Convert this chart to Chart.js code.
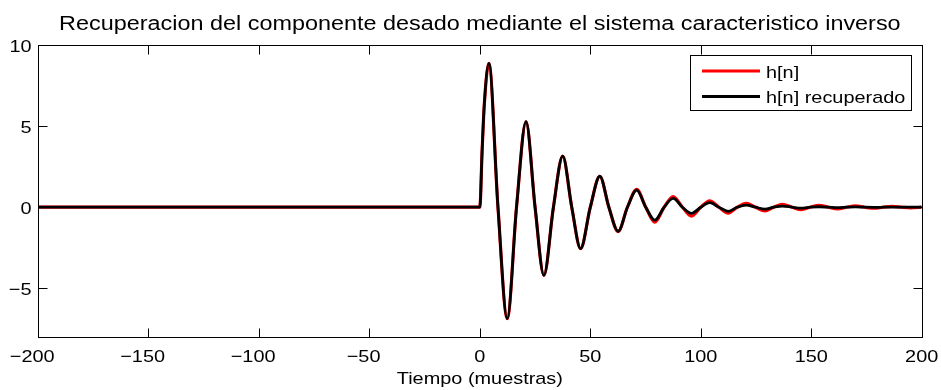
<!DOCTYPE html>
<html>
<head>
<meta charset="utf-8">
<script src="https://cdn.jsdelivr.net/npm/chart.js@4.4.0/dist/chart.umd.min.js"></script>
<style>
  body { margin: 0; background: #fff; }
  canvas { display: block; }
</style>
</head>
<body>
<canvas id="grafica" width="941" height="390"></canvas>
<script>
// muestras (extremos y cruces por cero) y amplitudes
const tiempo = [-200, 0, 1, 2, 4.1, 8.2, 12.4, 16.6, 20.9, 25, 29, 33.3, 37.5, 41.6, 45.6, 50,
  54.3, 58.4, 62.6, 66.8, 71, 75.1, 79.2, 83.4, 87.5, 91.7, 95.8, 100, 104, 108.2, 112.4,
  116.5, 120.5, 124.8, 129, 133, 137, 141.3, 145.5, 149.5, 153.5, 157.8, 162, 166, 170,
  174.2, 178.5, 182.5, 186.5, 190.8, 195, 200];
const hOriginal = [0, 0, 3.4, 6.3, 8.87, 0, -6.87, 0, 5.27, 0, -4.2, 0, 3.15, 0, -2.55, 0,
  1.91, 0, -1.5, 0, 1.1, 0, -0.92, 0, 0.66, 0, -0.55, 0, 0.4, 0, -0.36,
  0, 0.24, 0, -0.23, 0, 0.17, 0, -0.15, 0, 0.12, 0, -0.1, 0, 0.08,
  0, -0.06, 0, 0.05, 0, -0.04, 0];
const hRecuperado = [0, 0, 3.4, 6.3, 8.87, 0, -6.87, 0, 5.27, 0, -4.2, 0, 3.15, 0, -2.55, 0,
  1.91, 0, -1.48, 0, 1.05, 0, -0.8, 0, 0.54, 0, -0.38, 0, 0.28, 0, -0.25,
  0, 0.13, 0, -0.12, 0, 0.07, 0, -0.06, 0, 0.03, 0, -0.03, 0, 0.02,
  0, -0.01, 0, 0.01, 0, 0, 0];
const xTicks = [-200, -150, -100, -50, 0, 50, 100, 150, 200];
const yTicks = [-5, 0, 5, 10];

const titulo = 'Recuperacion del componente desado mediante el sistema caracteristico inverso';
const etiquetaX = 'Tiempo (muestras)';

const fuente = '"Liberation Sans", Arial, Helvetica, sans-serif';
const ESTIRA = 1.17; // la figura exportada tiene el texto algo ensanchado
const puntos = ys => tiempo.map((t, i) => ({ x: t, y: ys[i] }));
const signo = v => v < 0 ? '\u2212' + Math.abs(v) : String(v);

function texto(ctx, str, x, y, size, align) {
  ctx.save();
  ctx.font = size + 'px ' + fuente;
  ctx.fillStyle = '#000';
  ctx.textAlign = align;
  ctx.textBaseline = 'alphabetic';
  ctx.translate(x, y);
  ctx.scale(ESTIRA, 1);
  ctx.fillText(str, 0, 0);
  ctx.restore();
}

// marco tipo matlab, marcas hacia dentro, etiquetas, titulo y leyenda
const marco = {
  id: 'marco',
  afterDraw(chart) {
    const { ctx, chartArea: a, scales } = chart;
    const L = Math.round(a.left) + 0.5, R = Math.round(a.right) + 0.5;
    const T = Math.round(a.top) + 0.5, B = Math.round(a.bottom) + 0.5;
    ctx.save();
    ctx.strokeStyle = '#000';
    ctx.lineWidth = 1;
    ctx.strokeRect(L, T, R - L, B - T);
    ctx.beginPath();
    scales.x.ticks.forEach(t => {
      const px = Math.round(scales.x.getPixelForValue(t.value)) + 0.5;
      ctx.moveTo(px, B); ctx.lineTo(px, B - 9);
      ctx.moveTo(px, T); ctx.lineTo(px, T + 9);
    });
    scales.y.ticks.forEach(t => {
      const py = Math.round(scales.y.getPixelForValue(t.value)) + 0.5;
      ctx.moveTo(L, py); ctx.lineTo(L + 9, py);
      ctx.moveTo(R, py); ctx.lineTo(R - 9, py);
    });
    ctx.stroke();

    // etiquetas de los ejes: en los negativos el numero queda centrado y el signo sobresale
    ctx.font = '17px ' + fuente;
    scales.x.ticks.forEach(t => {
      const px = scales.x.getPixelForValue(t.value);
      const cifras = String(Math.abs(t.value));
      const w = ctx.measureText(cifras).width * ESTIRA;
      texto(ctx, signo(t.value), px + w / 2, 361.5, 17, 'right');
    });
    scales.y.ticks.forEach(t => {
      const py = scales.y.getPixelForValue(t.value);
      texto(ctx, signo(t.value), 31.5, py + 7, 17, 'right');
    });
    const cx = (a.left + a.right) / 2;
    texto(ctx, titulo, cx, 29.5, 20, 'center');
    texto(ctx, etiquetaX, cx, 384, 17, 'center');

    // leyenda con recuadro
    const bx = 690.5, by = 55.5, bw = 221, bh = 55;
    ctx.fillStyle = '#fff';
    ctx.fillRect(bx, by, bw, bh);
    ctx.strokeRect(bx, by, bw, bh);
    chart.data.datasets.forEach((ds, i) => {
      const y = 71 + i * 25.5;
      ctx.strokeStyle = ds.borderColor;
      ctx.lineWidth = 2.8;
      ctx.beginPath();
      ctx.moveTo(702, y); ctx.lineTo(760, y);
      ctx.stroke();
      texto(ctx, ds.label, 766, y + 6.5, 17, 'left');
    });
    ctx.restore();
  }
};

new Chart(document.getElementById('grafica'), {
  type: 'line',
  data: {
    datasets: [
      { label: 'h[n]', data: puntos(hOriginal), borderColor: '#ff0000', borderWidth: 3.2,
        pointRadius: 0, cubicInterpolationMode: 'monotone', order: 2 },
      { label: 'h[n] recuperado', data: puntos(hRecuperado), borderColor: '#000000', borderWidth: 2.8,
        pointRadius: 0, cubicInterpolationMode: 'monotone', order: 1 }
    ]
  },
  options: {
    responsive: false,
    animation: false,
    devicePixelRatio: 1,
    layout: { padding: { left: 0, right: 19.3, top: 45, bottom: 0 } },
    plugins: {
      legend: { display: false },
      tooltip: { enabled: false },
      title: { display: false }
    },
    scales: {
      x: {
        type: 'linear', min: -200, max: 200,
        grid: { display: false, drawTicks: false },
        border: { display: false },
        afterBuildTicks: s => { s.ticks = xTicks.map(v => ({ value: v })); },
        afterFit: s => { s.height = 53; },
        ticks: { display: false }
      },
      y: {
        min: -8, max: 10,
        grid: { display: false, drawTicks: false },
        border: { display: false },
        afterBuildTicks: s => { s.ticks = yTicks.map(v => ({ value: v })); },
        afterFit: s => { s.width = 38; },
        ticks: { display: false }
      }
    }
  },
  plugins: [marco]
});
</script>
</body>
</html>
